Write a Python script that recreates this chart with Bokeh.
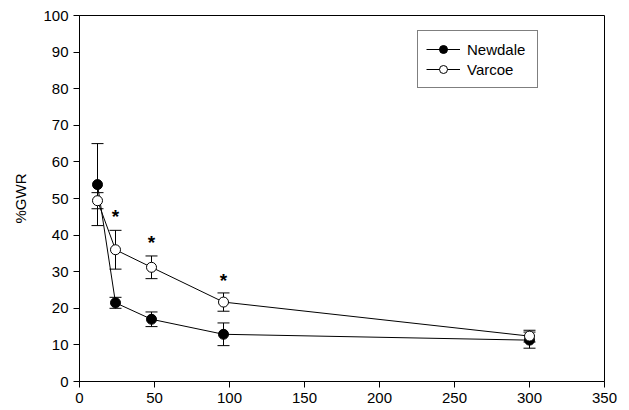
from bokeh.plotting import figure
from bokeh.models import (Whisker, ColumnDataSource, Legend, LegendItem,
                          FixedTicker, Range1d, TeeHead)
from bokeh.core.properties import value
from bokeh.embed import file_html
from bokeh.resources import INLINE

# ---- data ----
hours = [12, 24, 48, 96, 300]
newdale = [53.8, 21.5, 17.0, 12.9, 11.3]
newdale_err = [11.2, 1.5, 2.0, 3.1, 2.2]
varcoe = [49.4, 36.0, 31.2, 21.7, 12.4]
varcoe_err = [2.2, 5.3, 3.1, 2.5, 1.6]
star_x = [24, 48, 96]
star_y = [46.2, 39.0, 28.7]
x_ticks = [0, 50, 100, 150, 200, 250, 300, 350]
y_ticks = [0, 10, 20, 30, 40, 50, 60, 70, 80, 90, 100]
y_label = "%GWR"
series_names = ["Newdale", "Varcoe"]

FONT = "Liberation Sans"
FS = "15px"

p = figure(width=629, height=410, output_backend="svg", toolbar_location=None,
           x_range=Range1d(0, 350), y_range=Range1d(0, 100),
           min_border_left=79, min_border_right=25, min_border_top=15,
           min_border_bottom=29)
p.background_fill_color = "white"
p.border_fill_color = "white"
p.outline_line_color = "black"
p.outline_line_width = 1
p.xgrid.visible = False
p.ygrid.visible = False

for ax in (p.xaxis[0], p.yaxis[0]):
    ax.axis_line_color = "black"
    ax.major_tick_line_color = "black"
    ax.major_tick_out = 6
    ax.major_tick_in = 0
    ax.minor_tick_line_color = None
    ax.major_label_text_font = FONT
    ax.major_label_text_font_size = FS
    ax.major_label_text_color = "black"

p.xaxis.ticker = FixedTicker(ticks=x_ticks)
p.yaxis.ticker = FixedTicker(ticks=y_ticks)
p.xaxis.major_label_standoff = 5
p.yaxis.major_label_standoff = 5
p.yaxis.axis_label = y_label
p.yaxis.axis_label_text_font = FONT
p.yaxis.axis_label_text_font_size = FS
p.yaxis.axis_label_text_font_style = "normal"
p.yaxis.axis_label_text_color = "black"
p.yaxis.axis_label_standoff = 11

def add_err(vals, errs):
    src = ColumnDataSource(dict(x=hours,
                                up=[v + e for v, e in zip(vals, errs)],
                                lo=[v - e for v, e in zip(vals, errs)]))
    w = Whisker(base="x", upper="up", lower="lo", source=src,
                line_color="black", line_width=1,
                upper_head=TeeHead(size=12, line_color="black", line_width=1),
                lower_head=TeeHead(size=12, line_color="black", line_width=1))
    p.add_layout(w)

add_err(newdale, newdale_err)
add_err(varcoe, varcoe_err)

src_n = ColumnDataSource(dict(x=hours, y=newdale))
src_v = ColumnDataSource(dict(x=hours, y=varcoe))

ln = p.line("x", "y", source=src_n, line_color="black", line_width=1)
sn = p.scatter("x", "y", source=src_n, marker="circle", size=10,
               fill_color="black", line_color="black", line_width=1)
lv = p.line("x", "y", source=src_v, line_color="black", line_width=1)
sv = p.scatter("x", "y", source=src_v, marker="circle", size=10,
               fill_color="white", line_color="black", line_width=1)

p.text(x=star_x, y=star_y, text=["*"] * len(star_x),
       text_font=value(FONT), text_font_size="19px", text_font_style="bold",
       text_align="center", text_baseline="alphabetic", y_offset=4,
       text_color="black")

legend = Legend(items=[LegendItem(label=series_names[0], renderers=[ln, sn]),
                       LegendItem(label=series_names[1], renderers=[lv, sv])],
                location=(338, 293), margin=0, padding=8, spacing=0,
                glyph_width=34, glyph_height=20, label_height=20,
                label_width=62, label_standoff=7,
                label_text_font=FONT, label_text_font_size=FS,
                label_text_color="black",
                border_line_color="black", border_line_width=1,
                background_fill_color="white", background_fill_alpha=1)
p.add_layout(legend)

open("out.html", "w").write(file_html(p, INLINE))
